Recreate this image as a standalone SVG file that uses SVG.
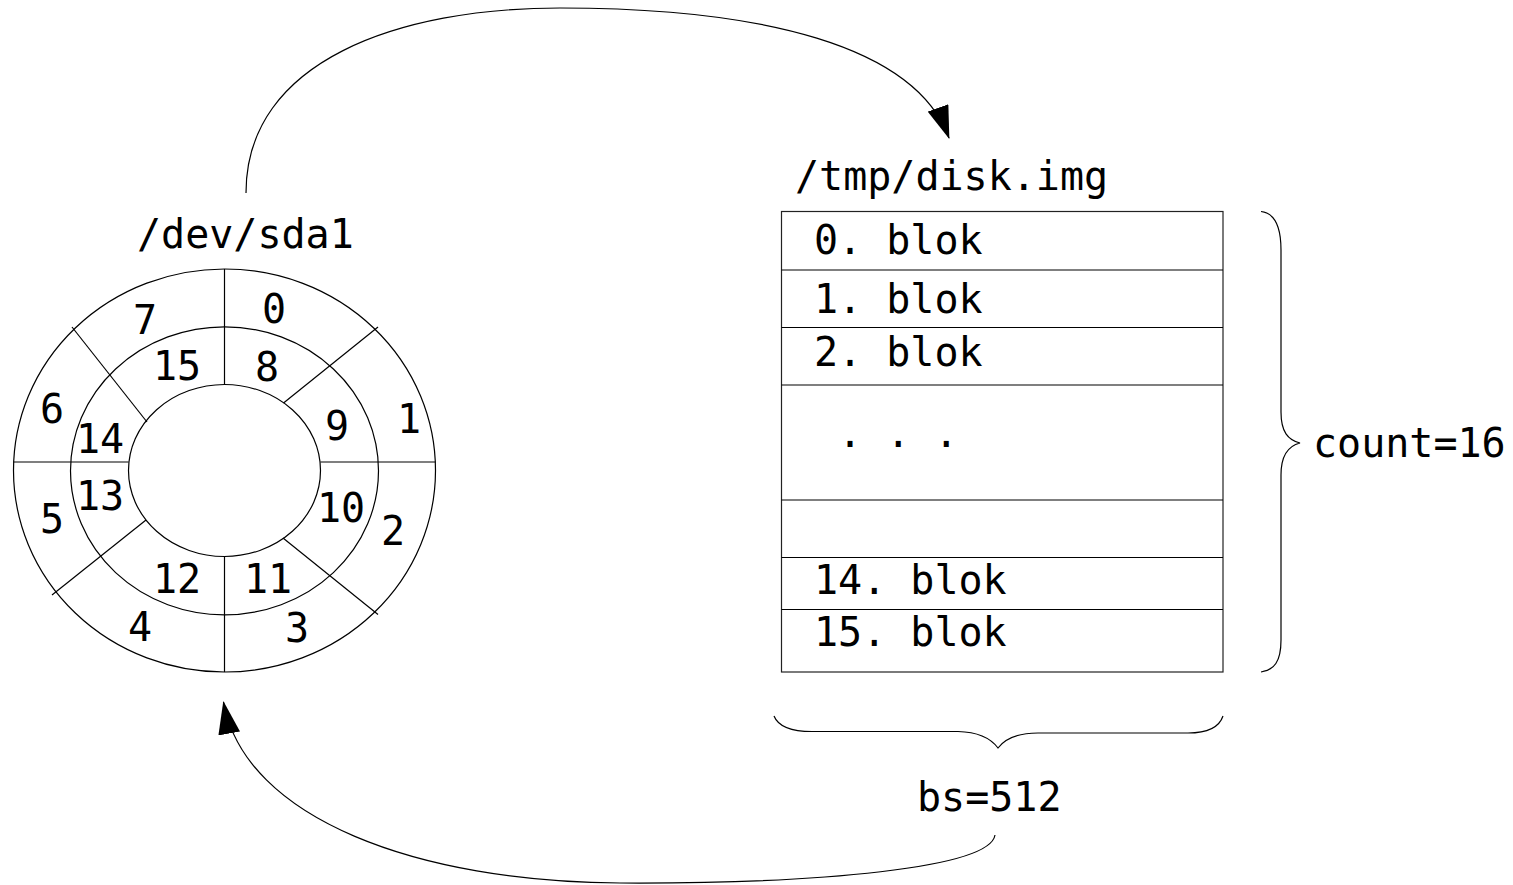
<svg xmlns="http://www.w3.org/2000/svg" width="1513" height="885" viewBox="0 0 1513 885">
<defs>
<style>
text{font-family:"DejaVu Sans Mono","Liberation Mono",monospace;font-size:40px;fill:#000}
.c{text-anchor:middle}
.ln{fill:none;stroke:#000;stroke-width:1.2}
.box{fill:#fff;stroke:#222;stroke-width:1.2}
</style>
<marker id="ah" viewBox="0 0 33 22" refX="32" refY="11" markerWidth="33" markerHeight="22" markerUnits="userSpaceOnUse" orient="auto">
<path d="M0,0 L33,11 L0,22 z" fill="#000"/>
</marker>
</defs>
<rect width="1513" height="885" fill="#fff"/>

<g id="disk">
<ellipse class="ln" cx="224.5" cy="470.5" rx="211" ry="201.5"/>
<ellipse class="ln" cx="224.5" cy="470.8" rx="154" ry="144"/>
<ellipse class="ln" cx="224.5" cy="470.5" rx="96" ry="86"/>
<line class="ln" x1="224.5" y1="269" x2="224.5" y2="384.5"/>
<line class="ln" x1="224.5" y1="556.5" x2="224.5" y2="672"/>
<line class="ln" x1="13.5" y1="462" x2="128.5" y2="462"/>
<line class="ln" x1="320.5" y1="462" x2="435.5" y2="462"/>
<line class="ln" x1="72" y1="327" x2="147" y2="422"/>
<line class="ln" x1="378" y1="327" x2="283.5" y2="403"/>
<line class="ln" x1="146" y1="520" x2="52" y2="595"/>
<line class="ln" x1="283" y1="538" x2="378" y2="614.5"/>
<text class="c" x="274" y="323">0</text>
<text class="c" x="409" y="433">1</text>
<text class="c" x="393" y="545">2</text>
<text class="c" x="297" y="642">3</text>
<text class="c" x="140" y="641">4</text>
<text class="c" x="52" y="533">5</text>
<text class="c" x="52" y="423">6</text>
<text class="c" x="145" y="334">7</text>
<text class="c" x="267" y="381">8</text>
<text class="c" x="337" y="440">9</text>
<text class="c" x="341" y="522">10</text>
<text class="c" x="268" y="593">11</text>
<text class="c" x="177" y="593">12</text>
<text class="c" x="100" y="510">13</text>
<text class="c" x="100" y="453">14</text>
<text class="c" x="177" y="380">15</text>
<text x="137" y="248">/dev/sda1</text>
</g>

<g id="image">
<text x="795" y="190">/tmp/disk.img</text>
<rect class="box" x="781.5" y="211.5" width="441.5" height="460.5"/>
<line class="ln" x1="781.5" y1="270" x2="1223" y2="270"/>
<line class="ln" x1="781.5" y1="327.5" x2="1223" y2="327.5"/>
<line class="ln" x1="781.5" y1="385" x2="1223" y2="385"/>
<line class="ln" x1="781.5" y1="500" x2="1223" y2="500"/>
<line class="ln" x1="781.5" y1="557.5" x2="1223" y2="557.5"/>
<line class="ln" x1="781.5" y1="609.5" x2="1223" y2="609.5"/>
<text x="814" y="254">0. blok</text>
<text x="814" y="313">1. blok</text>
<text x="814" y="366">2. blok</text>
<text x="838" y="447">. . .</text>
<text x="814" y="594">14. blok</text>
<text x="814" y="646">15. blok</text>
</g>

<g id="count-brace">
<path class="ln" d="M1261,211.5 C1274,213 1281,224 1281,250 L1281,412 C1281,432 1288,440 1300,443 C1288,446 1281,455 1281,475 L1281,640 C1281,662 1274,670 1261,672"/>
<text x="1313" y="457">count=16</text>
</g>

<g id="bs-brace">
<path class="ln" d="M774,716 C778,726 790,731.5 812,731.5 L958,731.5 C980,732 992,740 998,748 C1004,740 1016,733 1038,733 L1188,733 C1210,733 1220,725 1223,716"/>
<text x="917" y="811">bs=512</text>
</g>

<g id="connectors">
<path class="ln" marker-end="url(#ah)" d="M246,193 C246,60 400,8 560,8 C760,8 915,45 949,138"/>
<path class="ln" marker-end="url(#ah)" d="M995,835 C990,868 820,884 620,883 C420,882 245,820 223.5,702"/>
</g>
</svg>
